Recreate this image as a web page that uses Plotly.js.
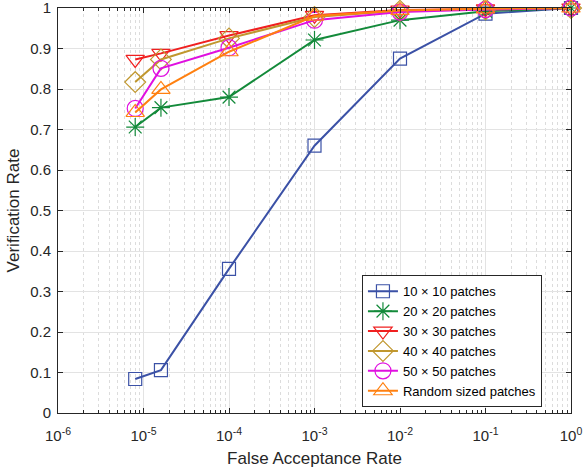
<!DOCTYPE html>
<html>
<head>
<meta charset="utf-8">
<script src="https://cdn.plot.ly/plotly-3.0.1.min.js"></script>
<style>html,body{margin:0;padding:0;background:#fff}#chart{width:584px;height:469px}</style>
</head>
<body>
<div id="chart"></div>
<script>
const far = [8e-6, 1.6e-5, 1e-4, 1e-3, 1e-2, 1e-1, 1];
const names = ["10 \u00d7 10 patches", "20 \u00d7 20 patches", "30 \u00d7 30 patches", "40 \u00d7 40 patches", "50 \u00d7 50 patches", "Random sized patches"];
const vr10 = [0.084, 0.106, 0.356, 0.660, 0.875, 0.986, 1.0];
const vr20 = [0.706, 0.754, 0.780, 0.921, 0.970, 0.992, 1.0];
const vr30 = [0.873, 0.888, 0.932, 0.982, 0.995, 0.998, 1.0];
const vr40 = [0.817, 0.873, 0.925, 0.978, 0.993, 0.997, 1.0];
const vr50 = [0.752, 0.851, 0.902, 0.970, 0.990, 0.996, 1.0];
const vrRand = [0.742, 0.799, 0.892, 0.980, 0.994, 0.998, 1.0];
const xTickVals = [1e-6, 1e-5, 1e-4, 1e-3, 1e-2, 1e-1, 1];
const xTickText = ["10<sup>-6</sup>", "10<sup>-5</sup>", "10<sup>-4</sup>", "10<sup>-3</sup>", "10<sup>-2</sup>", "10<sup>-1</sup>", "10<sup>0</sup>"];
const yTickVals = [0, 0.1, 0.2, 0.3, 0.4, 0.5, 0.6, 0.7, 0.8, 0.9, 1];
const yTickText = ["0", "0.1", "0.2", "0.3", "0.4", "0.5", "0.6", "0.7", "0.8", "0.9", "1"];

const series = [vr10, vr20, vr30, vr40, vr50, vrRand];
const colors = ["#3b51a6", "#138a3a", "#f02020", "#c0972e", "#e010e0", "#ff8010"];
const symbols = ["square-open", "asterisk-open", "triangle-down-open", "diamond-open", "circle-open", "triangle-up-open"];
const sizes = [13, 15, 16, 16, 16, 16];

const traces = series.map((y, i) => ({
  x: far, y: y, name: names[i], type: "scatter", mode: "lines+markers", cliponaxis: false,
  line: {color: colors[i], width: 2},
  marker: {symbol: symbols[i], size: sizes[i], color: colors[i], line: {color: colors[i], width: 1.2}}
}));

const FONT = "Liberation Sans, Arial, sans-serif";
const axisCommon = {
  showline: true, linecolor: "#262626", linewidth: 1, mirror: "allticks",
  ticks: "inside", ticklen: 5, tickcolor: "#262626",
  showgrid: true, gridcolor: "#e3e3e3", gridwidth: 1, zeroline: false,
  ticklabeloverflow: "allow",
  tickfont: {family: FONT, size: 15, color: "#262626"}
};

const layout = {
  width: 584, height: 469,
  margin: {l: 58, r: 13, t: 8, b: 56},
  paper_bgcolor: "#fff", plot_bgcolor: "#fff",
  showlegend: true,
  xaxis: Object.assign({}, axisCommon, {
    type: "log", range: [-6, 0], tickvals: xTickVals, ticktext: xTickText,
    ticklabelstandoff: 9,
    minor: {showgrid: true, gridcolor: "#dcdcdc", griddash: "dot", ticks: "inside", ticklen: 3, tickcolor: "#262626", dtick: "D1"},
    title: {text: "False Acceptance Rate", standoff: 9, font: {family: FONT, size: 17, color: "#262626"}}
  }),
  yaxis: Object.assign({}, axisCommon, {
    range: [0, 1], tickvals: yTickVals, ticktext: yTickText,
    ticklabelstandoff: 3,
    title: {text: "Verification Rate", standoff: 6, font: {family: FONT, size: 17, color: "#262626"}}
  }),
  legend: {
    x: 0.5925, y: 0.34, xanchor: "left", yanchor: "top",
    bgcolor: "#fff", bordercolor: "#262626", borderwidth: 1,
    font: {family: FONT, size: 13, color: "#000"},
    tracegroupgap: 0, itemwidth: 30
  }
};

Plotly.newPlot("chart", traces, layout, {displayModeBar: false, staticPlot: true});
</script>
</body>
</html>
